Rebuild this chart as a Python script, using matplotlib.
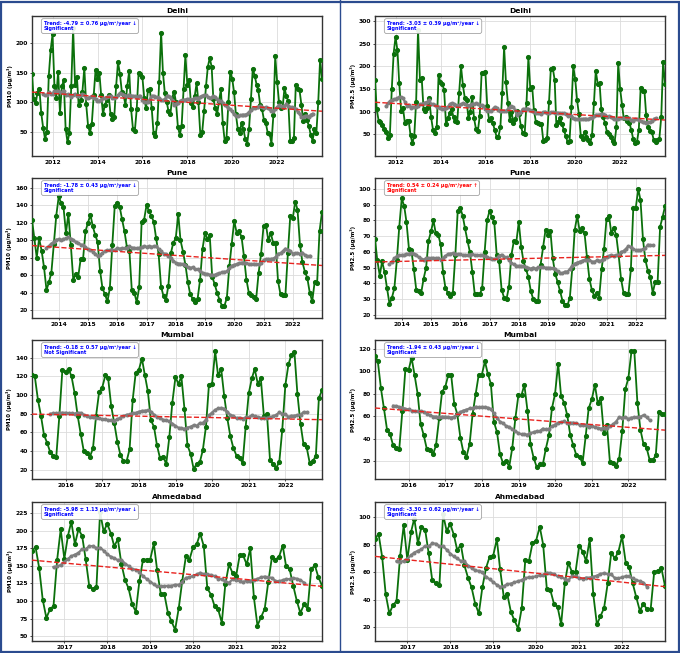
import numpy as np
import pandas as pd
import matplotlib
matplotlib.use('Agg')
import matplotlib.pyplot as plt
import matplotlib.dates as mdates
from matplotlib.patches import Rectangle
from matplotlib.lines import Line2D

# monthly means (ug/m3), one row per year
delhi_start = '2011-01'
delhi_pm10 = [
    147, 105, 98, 116, 123, 82, 57, 38, 50, 145, 188, 215,
    128, 108, 152, 82, 127, 137, 55, 32, 48, 128, 225, 130,
    142, 95, 103, 118, 158, 97, 60, 48, 64, 112, 155, 140,
    150, 113, 80, 95, 103, 113, 80, 72, 75, 128, 168, 148,
    118, 112, 96, 128, 153, 89, 55, 52, 88, 150, 147, 143,
    107, 90, 120, 123, 90, 48, 43, 65, 135, 218, 150, 115,
    100, 85, 80, 108, 118, 100, 58, 45, 60, 122, 180, 130,
    138, 98, 92, 110, 132, 100, 45, 50, 85, 127, 160, 175,
    160, 105, 90, 80, 102, 122, 65, 35, 40, 100, 152, 140,
    117, 80, 55, 48, 65, 55, 38, 30, 55, 105, 157, 145,
    130, 120, 95, 88, 70, 65, 48, 47, 30, 78, 178, 135,
    100, 90, 92, 124, 110, 102, 35, 35, 40, 130, 123, 120,
    95, 68, 80, 70, 60, 45, 35, 55, 48, 100, 172, 140,
]
delhi_pm25 = [
    170, 105, 80, 77, 70, 62, 55, 42, 48, 150, 228, 265,
    235, 163, 102, 108, 75, 80, 80, 48, 30, 47, 122, 280,
    170, 175, 105, 102, 108, 130, 88, 60, 52, 65, 180, 165,
    160, 148, 72, 85, 98, 105, 88, 80, 78, 142, 200, 158,
    130, 125, 85, 100, 133, 85, 62, 57, 90, 185, 185, 188,
    112, 82, 85, 75, 60, 45, 45, 65, 140, 242, 165, 120,
    82, 100, 75, 83, 102, 95, 68, 52, 50, 120, 220, 150,
    155, 103, 78, 75, 72, 73, 35, 38, 42, 122, 195, 197,
    170, 70, 78, 85, 72, 60, 46, 32, 35, 110, 200, 172,
    125, 95, 47, 40, 55, 45, 38, 30, 48, 118, 190, 162,
    163, 105, 88, 75, 55, 50, 45, 35, 30, 65, 207, 150,
    115, 85, 87, 80, 75, 60, 40, 30, 32, 60, 153, 145,
    145, 92, 65, 58, 55, 38, 33, 38, 40, 88, 210, 162,
]

pune_start = '2013-01'
pune_pm10 = [
    123, 103, 80, 102, 88, 69, 43, 52, 63, 96, 128, 150,
    142, 138, 108, 130, 94, 55, 61, 58, 78, 79, 110, 120,
    129, 116, 106, 98, 65, 45, 38, 30, 45, 95, 139, 143,
    138, 124, 110, 92, 88, 43, 40, 29, 46, 121, 123, 140,
    133, 128, 121, 102, 84, 47, 36, 32, 48, 85, 97, 102,
    130, 100, 87, 72, 52, 38, 33, 29, 33, 55, 90, 108,
    101, 106, 58, 50, 40, 32, 25, 25, 34, 70, 96, 122,
    108, 110, 104, 82, 55, 40, 37, 35, 33, 63, 84, 116,
    117, 100, 108, 97, 97, 53, 38, 37, 37, 85, 128, 125,
    144, 135, 95, 75, 64, 57, 40, 30, 52, 51, 110, 132,
]
pune_pm25 = [
    68, 55, 45, 54, 47, 37, 27, 31, 37, 55, 76, 94,
    89, 79, 62, 61, 49, 36, 35, 34, 43, 50, 67, 73,
    80, 72, 71, 65, 47, 37, 34, 32, 34, 58, 86, 88,
    83, 75, 67, 60, 47, 33, 33, 33, 37, 60, 80, 86,
    82, 79, 58, 54, 36, 31, 30, 38, 58, 67, 66, 79,
    63, 54, 49, 44, 35, 30, 29, 29, 52, 63, 74, 71,
    73, 56, 46, 41, 35, 29, 26, 26, 31, 50, 74, 83,
    73, 75, 72, 57, 43, 36, 32, 34, 31, 49, 62, 81,
    83, 72, 75, 71, 58, 43, 34, 33, 33, 49, 88, 88,
    100, 93, 68, 55, 48, 44, 34, 41, 41, 76, 82, 89,
]

mumbai_start = '2015-01'
mumbai_pm10 = [
    121, 120, 95, 78, 57, 49, 39, 35, 34, 78, 127, 125,
    128, 120, 102, 78, 58, 40, 38, 34, 43, 78, 103, 108,
    121, 118, 88, 70, 50, 36, 29, 29, 42, 95, 124, 127,
    139, 122, 104, 73, 66, 46, 32, 34, 26, 55, 92, 119,
    112, 120, 85, 46, 37, 21, 26, 28, 41, 66, 111, 112,
    147, 121, 128, 99, 75, 56, 43, 35, 33, 27, 66, 102,
    118, 128, 112, 118, 77, 80, 30, 26, 22, 28, 63, 111,
    133, 143, 146, 101, 69, 47, 44, 27, 29, 35, 97, 105,
]
mumbai_pm25 = [
    114, 109, 85, 67, 48, 44, 34, 32, 31, 65, 102, 101,
    112, 97, 80, 53, 43, 31, 30, 26, 34, 58, 82, 86,
    97, 97, 71, 62, 41, 28, 24, 35, 62, 80, 97, 97,
    109, 98, 89, 55, 46, 26, 18, 20, 15, 32, 58, 79,
    79, 88, 65, 35, 23, 15, 17, 17, 31, 43, 67, 80,
    107, 78, 72, 61, 43, 34, 25, 24, 18, 42, 67, 75,
    88, 72, 76, 45, 52, 19, 18, 16, 22, 47, 84, 94,
    118, 118, 72, 48, 35, 32, 21, 21, 25, 64, 62, 62,
]

ahmedabad_start = '2016-03'
ahmedabad_pm10 = [
    171, 177, 147, 102, 76, 88, 93, 159, 202, 160,
    193, 213, 181, 202, 193, 160, 121, 117, 120, 227, 199, 210,
    196, 178, 188, 153, 130, 118, 95, 85, 128, 159, 159, 159,
    182, 144, 110, 110, 83, 71, 59, 90, 129, 164, 159, 177,
    181, 196, 178, 118, 109, 93, 88, 69, 124, 152, 140, 136,
    166, 165, 152, 175, 105, 65, 77, 89, 127, 162, 159, 163,
    179, 150, 145, 122, 100, 83, 95, 89, 145, 151, 134, 122,
]
ahmedabad_pm25 = [
    84, 88, 71, 44, 30, 36, 39, 72, 94, 69,
    89, 99, 81, 93, 91, 74, 54, 52, 51, 102, 90, 95,
    87, 76, 80, 65, 56, 49, 37, 30, 49, 63, 71, 72,
    84, 62, 42, 44, 31, 25, 19, 34, 69, 68, 81, 83,
    93, 80, 48, 47, 37, 35, 22, 52, 67, 60, 60, 79,
    75, 68, 84, 44, 22, 28, 34, 52, 74, 70, 75, 86,
    67, 64, 52, 42, 32, 37, 33, 33, 60, 61, 63, 50,
]

cities = ['Delhi', 'Pune', 'Mumbai', 'Ahmedabad']
starts = [delhi_start, pune_start, mumbai_start, ahmedabad_start]
pm10_series = [delhi_pm10, pune_pm10, mumbai_pm10, ahmedabad_pm10]
pm25_series = [delhi_pm25, pune_pm25, mumbai_pm25, ahmedabad_pm25]

# reported trend stats (slope, error, significant)
pm10_slope = [-4.79, -1.78, -0.18, -5.98]
pm10_err = [0.76, 0.43, 0.57, 1.13]
pm10_sig = [True, True, False, True]
pm25_slope = [-3.03, 0.54, -1.94, -3.30]
pm25_err = [0.39, 0.24, 0.43, 0.62]
pm25_sig = [True, True, True, True]

pm10_ylim = [(9, 246), (11, 171), (10, 159), (43, 241)]
pm25_ylim = [(2, 311), (18, 107), (4, 128), (10, 111)]

W, H = 680, 653
fig = plt.figure(figsize=(W / 100, H / 100), dpi=100)
fig.patch.set_facecolor('white')

rows_px = [(16, 156), (178, 318), (340, 479), (502, 641)]
cols_px = [(32, 322), (375, 665)]


def draw_panel(ax, city, start, vals, ylabel, slope, err, sig, ylim, two_year):
    dates = pd.period_range(start, periods=len(vals), freq='M').to_timestamp(how='end').normalize()
    s = pd.Series(vals, index=dates, dtype=float)
    roll = s.rolling(12, center=True).mean()
    t = (dates - dates[0]).days.values / 365.25
    p = np.polyfit(t, s.values, 1)

    ax.plot(dates, s.values, '-o', color='#0b700b', lw=1.3, ms=2.7, zorder=3)
    ax.plot(dates, roll.values, '-o', color='#7f7f7f', lw=1.6, ms=1.9, zorder=4)
    ax.plot(dates, np.polyval(p, t), '--', color='#e8231f', lw=1.0, zorder=5)

    ax.set_xlim(dates[0], dates[-1])
    ax.set_ylim(*ylim)
    ax.xaxis.set_major_locator(mdates.YearLocator(2 if two_year else 1))
    ax.xaxis.set_major_formatter(mdates.DateFormatter('%Y'))
    ax.grid(True, color='#dcdcdc', lw=0.6)
    ax.set_axisbelow(True)
    for sp in ax.spines.values():
        sp.set_linewidth(1.0)
        sp.set_color('#333333')
    ax.tick_params(labelsize=4.3, length=1.5, width=0.5, pad=1.5)
    for lab in ax.get_xticklabels() + ax.get_yticklabels():
        lab.set_fontweight('bold')
    ax.set_title(city, fontsize=5.4, fontweight='bold', pad=2)
    ax.set_ylabel(ylabel, fontsize=4.0, fontweight='bold', labelpad=2)

    arrow = '\u2191' if slope > 0 else '\u2193'
    txt = f'Trend: {slope:.2f} \u00b1 {err:.2f} \u00b5g/m\u00b3/year {arrow}\n'
    txt += 'Significant' if sig else 'Not Significant'
    ax.text(0.04, 0.965, txt, transform=ax.transAxes, fontsize=3.6,
            fontweight='bold', color='red' if slope > 0 else 'blue',
            va='top', ha='left', linespacing=1.1, zorder=10,
            bbox=dict(boxstyle='round,pad=0.45', fc='white', ec='#999999',
                      lw=0.6, alpha=0.9))


for r, city in enumerate(cities):
    top, bot = rows_px[r]
    for c in range(2):
        x0, x1 = cols_px[c]
        ax = fig.add_axes([x0 / W, 1 - bot / H, (x1 - x0) / W, (bot - top) / H])
        if c == 0:
            draw_panel(ax, city, starts[r], pm10_series[r], 'PM10 (\u00b5g/m\u00b3)',
                       pm10_slope[r], pm10_err[r], pm10_sig[r], pm10_ylim[r], r == 0)
        else:
            draw_panel(ax, city, starts[r], pm25_series[r], 'PM2.5 (\u00b5g/m\u00b3)',
                       pm25_slope[r], pm25_err[r], pm25_sig[r], pm25_ylim[r], r == 0)

# frame around the two columns
fig.add_artist(Rectangle((0.002, 0.002), 0.996, 0.995, transform=fig.transFigure,
                         fill=False, ec='#2b4b8f', lw=1.6))
fig.add_artist(Line2D([340 / W, 340 / W], [0, 1], transform=fig.transFigure,
                      color='#2b4b8f', lw=1.0))

fig.savefig('out.png', dpi=100)
